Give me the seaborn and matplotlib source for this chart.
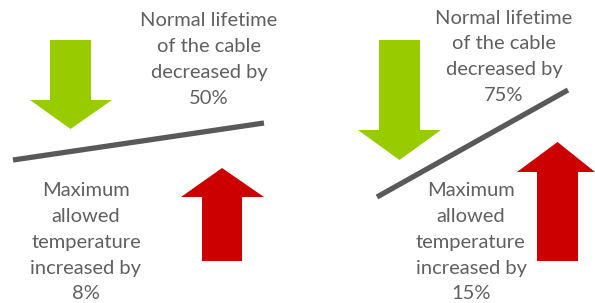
import matplotlib
matplotlib.use("Agg")
import matplotlib.pyplot as plt
import seaborn as sns
import pandas as pd

sns.set_theme(style="white")
plt.rcParams['font.family'] = ['Lato', 'DejaVu Sans']

# Data
scenarios = ["A", "B"]
lifetime_decrease = [50, 75]      # %
temperature_increase = [8, 15]    # %

# Layout (pixel coordinates of the infographic)
line_x0 = [13, 377]
line_y0 = [160, 197]
line_x1 = [264, 568]
line_y1 = [123, 90]

green_shaft_l = [50, 379]
green_shaft_r = [91, 420]
green_top = [40, 40]
green_shaft_b = [100, 130]
green_head_l = [30, 358]
green_head_r = [112, 441]
green_tip = [129, 160]

red_shaft_l = [202, 537]
red_shaft_r = [242, 578]
red_bottom = [261, 261]
red_head_base = [197, 172]
red_head_l = [181, 517]
red_head_r = [264, 595]
red_tip = [168, 142]

top_text_x = [209, 504]
top_text_y = [21, 18]
bot_text_x = [86, 471]
bot_text_y = [191, 191]
line_step = 25.7

GREEN = "#99CC00"
RED = "#CC0000"
GRAY = "#595959"
TEXT = "#606060"

fig = plt.figure(figsize=(5.95, 3.03), dpi=100)
ax = fig.add_axes([0, 0, 1, 1])

rows = []
for i, s in enumerate(scenarios):
    rows.append({"scenario": s, "x": line_x0[i], "y": line_y0[i]})
    rows.append({"scenario": s, "x": line_x1[i], "y": line_y1[i]})
df = pd.DataFrame(rows)
sns.lineplot(data=df, x="x", y="y", units="scenario", estimator=None,
             color=GRAY, linewidth=3.8, ax=ax, sort=False, legend=False,
             solid_capstyle="butt")
ax.set_xlim(0, 595)
ax.set_ylim(303, 0)
ax.axis("off")

for i in range(len(scenarios)):
    cx = (green_shaft_l[i] + green_shaft_r[i]) / 2
    gx = [green_shaft_l[i], green_shaft_r[i], green_shaft_r[i], green_head_r[i],
          cx, green_head_l[i], green_shaft_l[i]]
    gy = [green_top[i], green_top[i], green_shaft_b[i], green_shaft_b[i],
          green_tip[i], green_shaft_b[i], green_shaft_b[i]]
    ax.fill(gx, gy, color=GREEN, lw=0)

    rx_c = (red_shaft_l[i] + red_shaft_r[i]) / 2
    rx = [red_shaft_l[i], red_shaft_r[i], red_shaft_r[i], red_head_r[i],
          rx_c, red_head_l[i], red_shaft_l[i]]
    ry = [red_bottom[i], red_bottom[i], red_head_base[i], red_head_base[i],
          red_tip[i], red_head_base[i], red_head_base[i]]
    ax.fill(rx, ry, color=RED, lw=0)

    top_lines = ["Normal lifetime", "of the cable", "decreased by",
                 f"{lifetime_decrease[i]}%"]
    for k, s in enumerate(top_lines):
        ax.text(top_text_x[i], top_text_y[i] + k * line_step, s,
                ha="center", va="center", fontsize=14.5, color=TEXT)
    bot_lines = ["Maximum", "allowed", "temperature", "increased by",
                 f"{temperature_increase[i]}%"]
    for k, s in enumerate(bot_lines):
        ax.text(bot_text_x[i], bot_text_y[i] + k * line_step, s,
                ha="center", va="center", fontsize=14.5, color=TEXT)

fig.savefig("out.png", dpi=100)
